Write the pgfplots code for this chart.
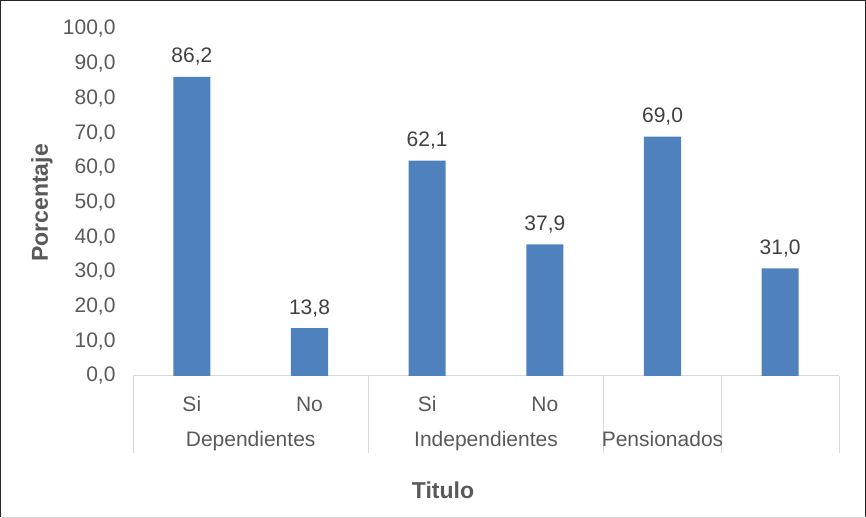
\documentclass[border=0pt]{standalone}
\usepackage{fontspec}
\setmainfont{Liberation Sans}
\usepackage{pgfplots}
\pgfplotsset{compat=1.18}
\definecolor{barblue}{HTML}{4F81BD}
\definecolor{ticktext}{HTML}{595959}
\definecolor{labeltext}{HTML}{404040}
\definecolor{axisgray}{HTML}{D9D9D9}
\newcommand{\chartfont}{\fontsize{21pt}{25pt}\selectfont}
\newcommand{\titlefont}{\fontsize{23pt}{27pt}\selectfont\bfseries}
\begin{document}
\begin{tikzpicture}
\useasboundingbox (0,0) rectangle (866pt,518pt);
% outer chart frame
\draw[black!85, line width=1.3pt] (0.65pt,1pt) -- (0.65pt,517.35pt) -- (865.35pt,517.35pt) -- (865.35pt,1pt);
\draw[axisgray, line width=1pt] (0.65pt,0.9pt) -- (865.35pt,0.9pt);
\begin{axis}[
  at={(133pt,142pt)}, anchor=south west,
  scale only axis, width=706pt, height=347pt,
  xmin=-0.5, xmax=5.5, ymin=0, ymax=100,
  clip=false,
  axis x line*=bottom, axis y line*=left,
  x axis line style={axisgray, line width=1pt, -},
  y axis line style={draw=none},
  tick style={draw=none},
  /pgf/number format/assume math mode=true,
  ytick={0,10,...,100},
  yticklabel={\pgfmathprintnumber[fixed,fixed zerofill,precision=1,use comma]{\tick}},
  yticklabel style={font=\chartfont, text=ticktext, anchor=east, xshift=-14pt},
  xtick={0,...,5},
  xticklabels={Si,No,Si,No,{},{}},
  xticklabel style={font=\chartfont, text=ticktext, anchor=base, yshift=-31pt},
  ybar, bar width=0.315,
  nodes near coords={\pgfmathprintnumber[fixed,fixed zerofill,precision=1,use comma]{\pgfplotspointmeta}},
  every node near coord/.append style={font=\chartfont, text=labeltext, anchor=base, yshift=14pt},
]
\addplot[fill=barblue, draw=none] coordinates {
  (0,86.2) (1,13.8) (2,62.1) (3,37.9) (4,69.0) (5,31.0)
};
% category group separators
\draw[axisgray, line width=1pt] (axis cs:-0.5,0) -- ++(0pt,-77pt);
\draw[axisgray, line width=1pt] (axis cs:1.5,0) -- ++(0pt,-77pt);
\draw[axisgray, line width=1pt] (axis cs:3.5,0) -- ++(0pt,-77pt);
\draw[axisgray, line width=1pt] (axis cs:4.5,0) -- ++(0pt,-77pt);
\draw[axisgray, line width=1pt] (axis cs:5.5,0) -- ++(0pt,-77pt);
% group names
\node[font=\chartfont, text=ticktext, anchor=base] at ([yshift=-71pt]axis cs:0.5,0) {Dependientes};
\node[font=\chartfont, text=ticktext, anchor=base] at ([yshift=-71pt]axis cs:2.5,0) {Independientes};
\node[font=\chartfont, text=ticktext, anchor=base] at ([yshift=-71pt]axis cs:4,0) {Pensionados};
\end{axis}
\node[font=\titlefont, text=ticktext] at (443pt,28pt) {Titulo};
\node[font=\titlefont, text=ticktext, rotate=90] at (42pt,315pt) {Porcentaje};
\end{tikzpicture}
\end{document}
